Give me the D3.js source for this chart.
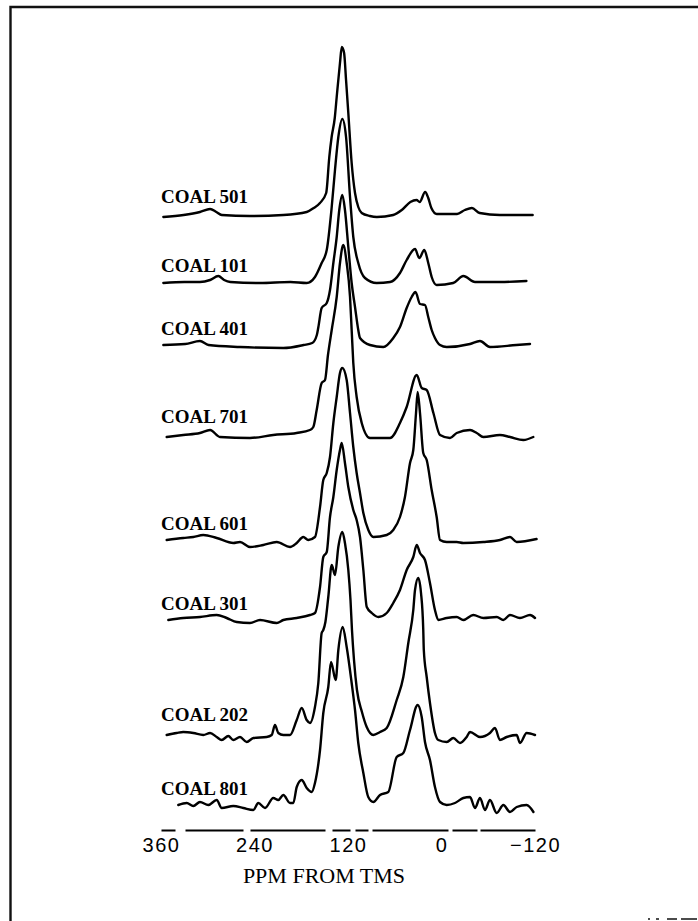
<!DOCTYPE html>
<html lang="en">

<head>
    <meta charset="UTF-8">
    <title>PPM FROM TMS</title>
    <style>
        body {
            margin: 0;
            background: #fff;
        }

        .frame {
            fill: none;
            stroke: #111;
        }

        .spec {
            fill: none;
            stroke: #000;
            stroke-width: 2.4px;
            stroke-linejoin: round;
            stroke-linecap: round;
        }

        .lbl {
            font-family: "Liberation Serif", serif;
            font-weight: bold;
            font-size: 19px;
        }

        .axis text {
            font-family: "Liberation Sans", sans-serif;
            font-size: 20px;
            letter-spacing: 1.5px;
            fill: #000;
        }

        .axis path {
            stroke: #000;
            stroke-width: 2px;
            stroke-dasharray: 14 10 58 7 75 7 18 5 13 4 76 4 25 3 55;
        }

        .title {
            font-family: "Liberation Serif", serif;
            font-size: 22px;
            text-anchor: middle;
        }
    </style>
</head>

<body>
    <script src="https://d3js.org/d3.v7.min.js"></script>
    <script>
        // data: [ppm, relative intensity]
        const coals = ['COAL 501', 'COAL 101', 'COAL 401', 'COAL 701', 'COAL 601', 'COAL 301', 'COAL 202', 'COAL 801'];
        const ppmTicks = [360, 240, 120, 0, -120];

        const coal501 = [[357, -2], [331, 0], [310, 3], [297, 6], [289, 3], [282, 0], [246, -1], [203, 0], [173, 3], [164, 7], [156, 12], [148, 22], [144, 58], [141, 78], [137, 97], [134.5, 118], [130.3, 152], [128, 168], [125, 162], [122.5, 135], [119.6, 102], [115.3, 52], [111, 22], [106.8, 8], [102.4, 2], [92, -1], [83, -2], [62, 0], [51, 5], [40, 13], [32, 15], [28, 13], [21, 23], [17, 17], [13, 7], [6, 1], [-20, 1], [-30, 5], [-39, 7], [-49, 2], [-75, 0], [-117, 0]];
        const coal101 = [[357, 0], [330, 1], [310, 1], [297, 3], [286.5, 7], [279, 3], [271, 1], [233, 0], [194, 1], [173, 0], [162.4, 6], [153.8, 20], [147.3, 33], [140.9, 76], [136.7, 113], [132.4, 146], [127.3, 164], [122.5, 146], [117.4, 86], [113.2, 46], [106.8, 20], [98.2, 5], [83.2, 0], [66, 1], [53.3, 10], [44.7, 23], [34, 34], [28.5, 25], [22.1, 33], [17, 20], [12.6, 6], [6.2, -2], [-15, 0], [-28, 7], [-43, 1], [-75, 1], [-109, 2]];
        const coal401 = [[357, 0], [329, 1], [310, 4], [299, 0], [258.6, -2], [203, -3], [177, 0], [166, 2], [160, 10], [158, 18], [153.8, 37], [147.3, 42], [143.1, 55], [138.8, 82], [134.5, 108], [131.2, 135], [127.3, 150], [123.9, 135], [119.6, 98], [115.3, 62], [111, 38], [106.8, 15], [104.6, 7], [91.8, 0], [74.7, -2], [61.9, 7], [53.3, 18], [44.7, 37], [38.3, 48], [33.4, 53], [27.6, 41], [21.2, 40], [17, 28], [12.6, 15], [8.4, 7], [1.9, 0], [-6.7, -2], [-36.6, 1], [-49.4, 4], [-62.2, -2], [-96, 0], [-113.6, 1]];
        const coal701 = [[352.7, 0], [331.4, 2], [310, 4], [297, 7], [284.3, 0], [245.8, -1], [216, 2], [186, 4], [168.8, 7], [164.5, 10], [160.2, 27], [153.8, 54], [149.5, 57], [145.7, 82], [140.9, 107], [134.5, 140], [130.3, 174], [126.1, 192], [121.7, 174], [117.4, 140], [115.3, 107], [113.2, 74], [108.9, 40], [102.4, 14], [91.8, -1], [66.1, -1], [53.3, 14], [44.7, 30], [31.8, 62], [25.4, 49], [19, 47], [10.4, 24], [1.9, 2], [-10.9, -1], [-19.5, 4], [-36.6, 7], [-45.2, 4], [-53.7, 0], [-75, 2], [-88, 0], [-105, -3], [-117.8, 0]];
        const coal601 = [[352.7, 2], [331.4, 4], [318.5, 5], [305.7, 7], [288.5, 4], [267.2, -1], [258.6, 0], [245.8, -5], [228.7, -3], [211.5, 0], [194.4, -5], [185.8, -1], [177.4, 5], [171, 2], [162.4, 5], [155.9, 35], [151.7, 62], [147.3, 69], [143.1, 85], [138.8, 119], [134.5, 145], [130.3, 169], [127.3, 174], [121.7, 162], [117.4, 129], [113.2, 95], [108.9, 69], [104.6, 49], [100.3, 29], [93.9, 12], [87.5, 5], [70.3, 7], [61.9, 12], [53.3, 25], [46.9, 45], [40.4, 79], [36.2, 92], [32.7, 129], [30.6, 150], [27.6, 129], [23.4, 89], [19, 82], [12.6, 52], [6.2, 25], [1.9, 2], [-6.7, 0], [-19.5, 0], [-28, -1], [-53.7, 0], [-75, 2], [-88, 5], [-96.5, 0], [-122, 3]];
        const coal301 = [[350.6, -2], [331.4, 0], [310, 1], [288.5, 3], [275.7, 0], [262.8, -4], [245.8, -5], [232.9, -2], [211.5, -5], [203, -2], [185.8, 0], [168.8, 3], [162.4, 5], [155.9, 31], [151.7, 61], [147.3, 66], [143.1, 101], [138.8, 121], [134.5, 148], [130.3, 168], [128.1, 175], [123.9, 155], [119.6, 131], [113.2, 108], [108.9, 98], [104.6, 81], [100.3, 48], [95.9, 11], [89.5, 5], [81, 1], [70.3, 5], [61.9, 15], [53.3, 28], [44.7, 48], [36.2, 61], [31.8, 73], [27.6, 65], [21.2, 58], [14.8, 35], [8.4, 8], [4.1, -2], [-6.7, 0], [-19.5, 1], [-28, -2], [-40.8, 3], [-53.7, 0], [-70.9, 1], [-79.4, -2], [-87.9, 3], [-100.7, 0], [-113.6, 3], [-120, 0]];
        const coal202 = [[352.7, 0], [339.9, 2], [331.4, 3], [318.5, 2], [305.7, 0], [297, 2], [288.5, -2], [282.1, -5], [273.6, -1], [267.2, -5], [258.6, -2], [250, -7], [241.5, -3], [224.4, -2], [217.9, 0], [213.7, 10], [209.5, 2], [203, 0], [194.4, 0], [185.8, 15], [179.4, 27], [173, 15], [168.8, 12], [162.4, 28], [158.1, 52], [153.8, 102], [151.7, 105], [149, 113], [145.3, 138], [140.9, 170], [136.7, 160], [132.4, 188], [127.3, 203], [123.9, 192], [119.6, 165], [116.8, 135], [114.9, 105], [112.3, 75], [108.5, 45], [102.1, 23], [96, 8], [87.5, 0], [78.9, 3], [70.3, 7], [57.5, 35], [49, 58], [42.6, 92], [36.2, 125], [34, 145], [29.8, 157], [26.3, 142], [23.4, 105], [22.7, 85], [19, 58], [14.8, 32], [8.4, 2], [4.1, -5], [-6.7, -7], [-15.2, -3], [-23.7, -8], [-32.3, -2], [-36.6, 3], [-49.4, -2], [-62.2, 2], [-68.6, 7], [-75, -5], [-83.6, -2], [-96.5, 0], [-100.7, -8], [-109.3, 2], [-120, 0]];
        const coal801 = [[337.8, 1], [327, 3], [318.5, 0], [310, 4], [299.3, 1], [288.5, 6], [282.1, -2], [267.2, 0], [254.4, -2], [241.5, -4], [235.1, 3], [226.5, -2], [215.9, 8], [209.5, 6], [203, 11], [194.4, 3], [190.2, 3], [185.8, 19], [179.4, 26], [173, 18], [166.6, 14], [162.4, 23], [155.9, 56], [151.7, 93], [145.3, 119], [141.8, 144], [135.8, 126], [132.4, 156], [126.8, 179], [121.7, 159], [115.3, 123], [111, 96], [106.8, 63], [100.3, 33], [94, 9], [87.5, 4], [78.9, 11], [68.3, 14], [57.5, 49], [49, 53], [40.4, 76], [30.6, 101], [25.4, 89], [21.2, 64], [14.8, 46], [8.4, 19], [1.9, 4], [-6.7, 1], [-17.3, 3], [-28, 8], [-36.6, 9], [-43, -2], [-49.4, 8], [-55.8, -4], [-62.2, 6], [-70.8, -7], [-79.4, 1], [-87.9, -6], [-96.5, -1], [-109.3, 1], [-118, -6]];

        const spectra = [coal501, coal101, coal401, coal701, coal601, coal301, coal202, coal801];

        // layout (stack offsets, label lift)
        let W = 698, H = 921;
        let baseY = [215, 283, 345, 437, 542, 618, 735, 806];
        let labelLift = [12, 11, 10, 14, 12, 8, 14, 11];
        let axisY = 830;

        let s = d3.select('body').append('svg')
            .attr('width', W)
            .attr('height', H);

        // 1. frame
        s.append('path')
            .attr('class', 'frame')
            .attr('stroke-width', 2.4)
            .attr('d', `M10.5,${H}V7H${W}`);
        s.append('path')
            .attr('class', 'frame')
            .attr('stroke', '#888')
            .attr('stroke-width', 1.5)
            .attr('stroke-dasharray', '2 6 3 8 10 4 16 2')
            .attr('d', `M648,919H${W}`);

        // 2. scales
        let x = d3.scaleLinear().domain([360, -120]).range([161, 535]);
        let y = d3.scaleLinear().domain([0, 100]).range([0, 100]);

        let line = (i) => d3.line()
            .x(d => x(d[0]))
            .y(d => baseY[i] - y(d[1]))
            .curve(d3.curveMonotoneX);

        // 3. spectra
        s.selectAll('.spec')
            .data(spectra)
            .enter().append('path')
            .attr('class', 'spec')
            .attr('d', (d, i) => line(i)(d));

        s.selectAll('.lbl')
            .data(coals)
            .enter().append('text')
            .attr('class', 'lbl')
            .attr('x', x.range()[0])
            .attr('y', (d, i) => baseY[i] - labelLift[i])
            .text(d => d);

        // 4. axis
        let ax = s.append('g')
            .attr('class', 'axis')
            .attr('transform', `translate(0,${axisY})`)
            .call(d3.axisBottom(x).tickValues(ppmTicks).tickSize(0).tickPadding(8));
        ax.select('.domain').attr('stroke', '#000');

        s.append('text')
            .attr('class', 'title')
            .attr('x', 324)
            .attr('y', 883)
            .text('PPM FROM TMS');
    </script>
</body>

</html>
